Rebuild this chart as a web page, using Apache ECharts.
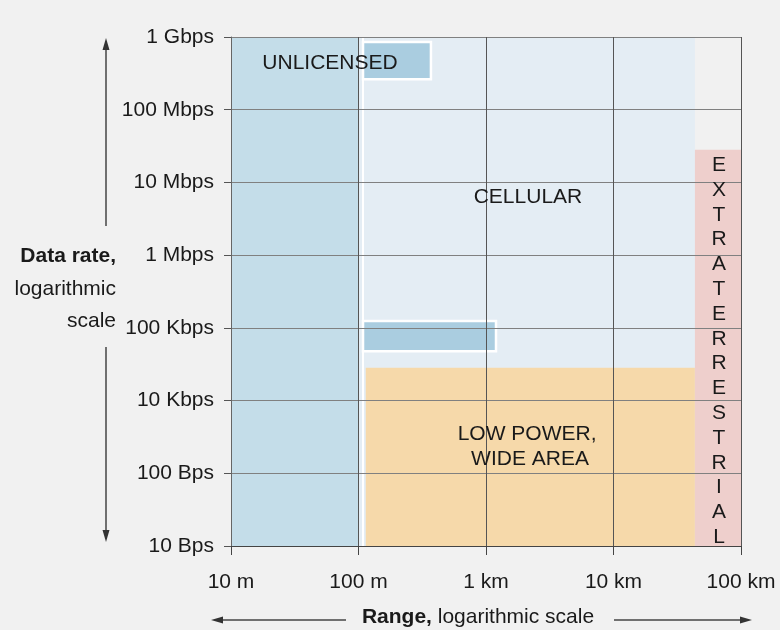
<!DOCTYPE html>
<html>
<head>
<meta charset="utf-8">
<script src="https://cdn.jsdelivr.net/npm/echarts@6/dist/echarts.min.js"></script>
<style>
html,body{margin:0;padding:0;background:#f1f1f1;}
#chart{width:780px;height:630px;}
</style>
</head>
<body>
<div id="chart"></div>
<script>
// ---- data ----
const xTicks = [10, 100, 1000, 10000, 100000];            // metres
const xTickLabels = ['10 m', '100 m', '1 km', '10 km', '100 km'];
const yTickLabels = ['10 Bps', '100 Bps', '10 Kbps', '100 Kbps', '1 Mbps', '10 Mbps', '100 Mbps', '1 Gbps'];

// regions: x in metres, y in tick-position units (0 = 10 Bps ... 7 = 1 Gbps)
const regionNames  = ['Cellular', 'Unlicensed', 'Low power, wide area', 'Extraterrestrial', 'Unlicensed (high rate)', 'Unlicensed (mid rate)'];
const regionXStart = [100,   10,  114,   43500, 108.5, 108.5];
const regionXEnd   = [43500, 100, 43500, 100000, 370,  1198];
const regionYStart = [0,     0,   0,     0,     6.42,  2.68];
const regionYEnd   = [7,     7,   2.45,  5.45,  6.93,  3.095];
const regionColors = ['#e4edf4', '#c4dde9', '#f6d9aa', '#eecfcc', '#aacde0', '#aacde0'];
const regionStroke = [false, false, false, false, true, true];

// white divider edge of the unlicensed zone
const dividerX = [108.5, 108.5];
const dividerY = [0, 7];

// region labels
const labelTexts = ['UNLICENSED', 'CELLULAR', 'LOW POWER,\n WIDE AREA', 'EXTRATERRESTRIAL'];
const labelX = [59.8, 2134, 2100, 67200];
const labelY = [6.64, 4.80, 1.37, 2.68];

// ---- build ----
const FONT = "'Liberation Sans', Arial, Helvetica, sans-serif";
const FS = 21;
const chart = echarts.init(document.getElementById('chart'), null, {renderer: 'canvas'});

const regionData = regionNames.map((n, i) => ({
  name: n,
  value: [regionXStart[i], regionXEnd[i], regionYStart[i], regionYEnd[i], i]
}));

const labelData = labelTexts.map((t, i) => ({
  name: t,
  value: [labelX[i], labelY[i], i]
}));

const option = {
  backgroundColor: '#f1f1f1',
  animation: false,
  grid: {left: 231, right: 39, top: 37, bottom: 84},
  xAxis: {
    type: 'log', logBase: 10, min: xTicks[0], max: xTicks[xTicks.length - 1],
    z: 5,
    axisLine: {show: true, lineStyle: {color: '#444', width: 1}},
    axisTick: {show: true, length: 9, lineStyle: {color: '#444'}},
    minorTick: {show: false},
    splitLine: {show: true, lineStyle: {color: '#555', width: 1}},
    axisLabel: {
      margin: 26, color: '#1a1a1a', fontSize: FS, fontFamily: FONT,
      formatter: v => xTickLabels[Math.round(Math.log10(v)) - 1]
    }
  },
  yAxis: {
    type: 'value', min: 0, max: 7, interval: 1,
    z: 5,
    axisLine: {show: true, lineStyle: {color: '#666', width: 1}},
    axisTick: {show: true, length: 7, lineStyle: {color: '#555'}},
    splitLine: {show: true, lineStyle: {color: '#808080', width: 1}},
    axisLabel: {
      margin: 17, color: '#1a1a1a', fontSize: FS, fontFamily: FONT,
      formatter: v => yTickLabels[Math.round(v)]
    }
  },
  series: [
    {
      type: 'custom', name: 'regions', z: 2,
      encode: {x: [0, 1], y: [2, 3]},
      data: regionData,
      renderItem: (params, api) => {
        const i = api.value(4);
        const p0 = api.coord([api.value(0), api.value(3)]);
        const p1 = api.coord([api.value(1), api.value(2)]);
        return {
          type: 'rect',
          shape: {x: p0[0], y: p0[1], width: p1[0] - p0[0], height: p1[1] - p0[1]},
          style: {
            fill: regionColors[i],
            stroke: regionStroke[i] ? '#ffffff' : null,
            lineWidth: regionStroke[i] ? 2.5 : 0
          }
        };
      }
    },
    {
      type: 'line', name: 'divider', z: 3,
      data: dividerX.map((x, i) => [x, dividerY[i]]),
      symbol: 'none',
      lineStyle: {color: '#ffffff', width: 2}
    },
    {
      type: 'custom', name: 'labels', z: 10,
      encode: {x: 0, y: 1},
      data: labelData,
      renderItem: (params, api) => {
        const i = api.value(2);
        const p = api.coord([api.value(0), api.value(1)]);
        const t = labelTexts[i];
        const vertical = (i === 3);
        return {
          type: 'text',
          x: p[0], y: p[1],
          style: {
            text: vertical ? t.split('').join('\n') : t,
            font: FS + 'px ' + FONT,
            fill: '#1a1a1a',
            align: 'center',
            verticalAlign: 'middle',
            lineHeight: vertical ? 24.8 : 25
          }
        };
      }
    }
  ],
  graphic: [
    {type: 'text', x: 116, y: 256, style: {text: 'Data rate,', font: 'bold ' + FS + 'px ' + FONT, fill: '#1a1a1a', textAlign: 'right', textVerticalAlign: 'middle'}},
    {type: 'text', x: 116, y: 289, style: {text: 'logarithmic', font: FS + 'px ' + FONT, fill: '#1a1a1a', textAlign: 'right', textVerticalAlign: 'middle'}},
    {type: 'text', x: 116, y: 321, style: {text: 'scale', font: FS + 'px ' + FONT, fill: '#1a1a1a', textAlign: 'right', textVerticalAlign: 'middle'}},
    // vertical arrow
    {type: 'line', shape: {x1: 106, y1: 48, x2: 106, y2: 226}, style: {stroke: '#444', lineWidth: 1.5}},
    {type: 'polygon', shape: {points: [[106, 38], [102.5, 50], [109.5, 50]]}, style: {fill: '#333'}},
    {type: 'line', shape: {x1: 106, y1: 347, x2: 106, y2: 532}, style: {stroke: '#444', lineWidth: 1.5}},
    {type: 'polygon', shape: {points: [[106, 542], [102.5, 530], [109.5, 530]]}, style: {fill: '#333'}},
    // horizontal arrow
    {type: 'line', shape: {x1: 222, y1: 620, x2: 346, y2: 620}, style: {stroke: '#444', lineWidth: 1.5}},
    {type: 'polygon', shape: {points: [[211, 620], [223, 616.5], [223, 623.5]]}, style: {fill: '#333'}},
    {type: 'line', shape: {x1: 614, y1: 620, x2: 742, y2: 620}, style: {stroke: '#444', lineWidth: 1.5}},
    {type: 'polygon', shape: {points: [[752, 620], [740, 616.5], [740, 623.5]]}, style: {fill: '#333'}},
    {type: 'text', x: 478, y: 617, style: {
      text: '{b|Range,} logarithmic scale',
      rich: {b: {font: 'bold ' + FS + 'px ' + FONT, fill: '#1a1a1a'}},
      font: FS + 'px ' + FONT, fill: '#1a1a1a', textAlign: 'center', textVerticalAlign: 'middle'
    }}
  ]
};
chart.setOption(option);
</script>
</body>
</html>
